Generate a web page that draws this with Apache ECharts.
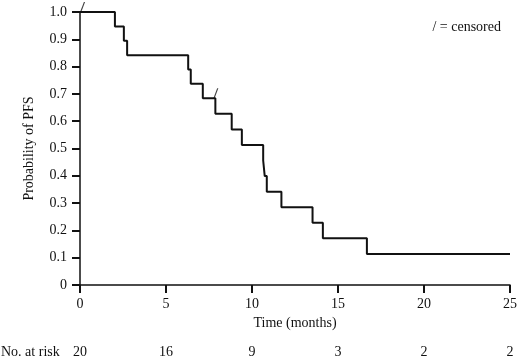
<!DOCTYPE html>
<html>
<head>
<meta charset="utf-8">
<script src="https://cdn.jsdelivr.net/npm/echarts@6/dist/echarts.min.js"></script>
<style>html,body{margin:0;padding:0;background:#fff;}#c{width:520px;height:360px;}</style>
</head>
<body>
<div id="c"></div>
<script>
// Kaplan-Meier step data (time in months, survival after the step)
var times = [0, 2.03, 2.55, 2.74, 6.29, 6.44, 7.14, 7.87, 8.82, 9.41, 10.65, 10.74, 10.86, 11.71, 13.52, 14.12, 16.68, 25];
var survival = [1.0, 0.947, 0.895, 0.842, 0.789, 0.737, 0.684, 0.627, 0.570, 0.513, 0.456, 0.399, 0.342, 0.285, 0.228, 0.171, 0.114, 0.114];
// censored observations
var censorTimes = [0.15, 7.9];
var censorSurv = [1.0, 0.684];
// number at risk table
var riskTimes = [0, 5, 10, 15, 20, 25];
var riskCounts = [20, 16, 9, 3, 2, 2];

var FONT = '"Liberation Serif", "Times New Roman", serif';
var FS = 14;
var INK = '#111';
var curve = times.map(function (t, i) { return [t, survival[i]]; });
var cens = censorTimes.map(function (t, i) { return [t, censorSurv[i]]; });

var chart = echarts.init(document.getElementById('c'), null, {renderer: 'canvas'});
chart.setOption({
  animation: false,
  grid: {left: 80, right: 8, top: 12, bottom: 75},
  xAxis: {
    type: 'value', min: 0, max: 25, interval: 5,
    name: 'Time (months)', nameLocation: 'middle', nameGap: 29,
    nameTextStyle: {fontFamily: FONT, fontSize: FS, color: INK},
    axisLine: {show: true, lineStyle: {color: INK, width: 1.5}},
    axisTick: {show: true, length: 8, lineStyle: {color: INK, width: 2}},
    axisLabel: {fontFamily: FONT, fontSize: FS, color: INK, margin: 12},
    splitLine: {show: false}
  },
  yAxis: {
    type: 'value', min: 0, max: 1, interval: 0.1,
    name: 'Probability of PFS', nameLocation: 'middle', nameGap: 44, nameRotate: 90,
    nameTextStyle: {fontFamily: FONT, fontSize: FS, color: INK},
    axisLine: {show: true, lineStyle: {color: INK, width: 1.5}},
    axisTick: {show: true, length: 8, lineStyle: {color: INK, width: 2}},
    axisLabel: {fontFamily: FONT, fontSize: FS, color: INK, margin: 13,
      formatter: function (v) { return v === 0 ? '0' : v.toFixed(1); }},
    splitLine: {show: false}
  },
  series: [{
    type: 'line', step: 'end', data: curve, symbol: 'none',
    lineStyle: {color: INK, width: 2}, z: 3
  }, {
    type: 'scatter', data: cens,
    symbol: 'path://M0,10 L1.2,10 L5,0 L3.8,0 Z', symbolSize: [5, 10], symbolOffset: [0, -5],
    itemStyle: {color: INK}, z: 4
  }]
});

// "No. at risk" row, placed under the axis ticks via the chart's own x scale
var riskGraphics = [{
  type: 'text', left: 1, top: 345,
  style: {text: 'No. at risk', font: FS + 'px ' + FONT, fill: INK}
}, {
  type: 'text', right: 19, top: 20,
  style: {text: '/ = censored', font: FS + 'px ' + FONT, fill: INK}
}];
riskTimes.forEach(function (t, i) {
  var px = chart.convertToPixel({xAxisIndex: 0}, t);
  riskGraphics.push({
    type: 'text', x: px, y: 345,
    style: {text: String(riskCounts[i]), font: FS + 'px ' + FONT, fill: INK, align: 'center', verticalAlign: 'top'}
  });
});
chart.setOption({graphic: riskGraphics});
</script>
</body>
</html>
